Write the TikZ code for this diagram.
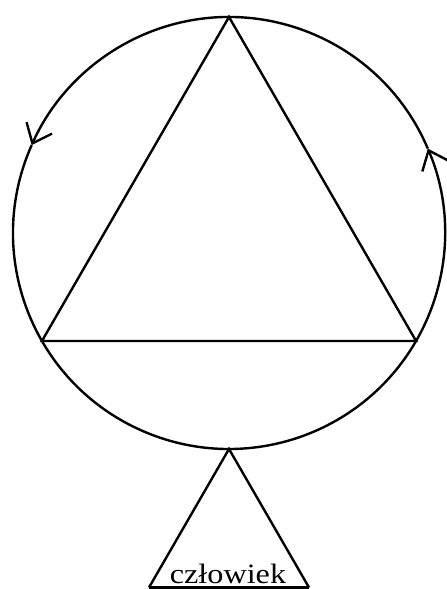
\documentclass[tikz,border=0pt]{standalone}
\usepackage{fontspec}
\setmainfont{Liberation Serif}
\usetikzlibrary{arrows.meta, calc}

\begin{document}
\begin{tikzpicture}[x=1pt, y=1pt, line width=2.4pt,
  >={Straight Barb[length=17pt, width=28pt]},
  podpis/.style={font=\fontsize{28}{32}\selectfont, inner sep=0pt,
      xscale=1.15, transform shape}]

% Frame
\useasboundingbox (0,0) rectangle (447,589);

% Circle, in three arcs, two of them ending in an arrow
\coordinate (C) at (229,356);
\draw[->] (C) ++(-30:216) arc[start angle=-30, end angle=23, radius=216] coordinate (strzalkaP);
\draw[->] (strzalkaP) arc[start angle=23, end angle=156, radius=216] coordinate (strzalkaL);
\draw (strzalkaL) arc[start angle=156, end angle=330, radius=216];

% Triangle inscribed in the circle
\path (C) ++(90:216) coordinate (gora);
\path (C) ++(210:216) coordinate (lewy);
\path (C) ++(330:216) coordinate (prawy);
\draw[line join=miter] (gora) -- (lewy) -- (prawy) -- cycle;

% Lower triangle under the circle
\path (C) ++(270:216) coordinate (dol);
\coordinate (baseL) at (149,1.5);
\coordinate (baseR) at (309,1.5);
\draw (baseL) -- (dol) -- (baseR);
\draw (baseL) -- (baseR);

% Label
\node[podpis, anchor=base] (czl) at (228,5) {człowiek};

\end{tikzpicture}
\end{document}
